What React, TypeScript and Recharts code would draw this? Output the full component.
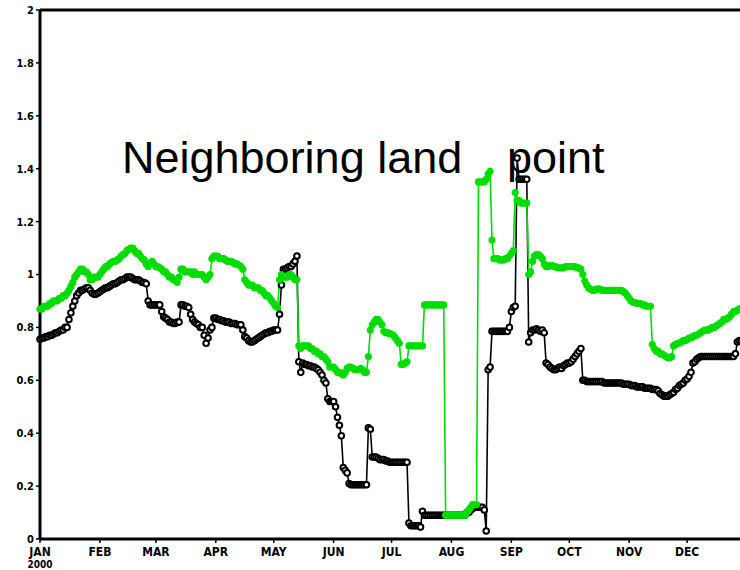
import React from "react";
import { LineChart, Line, XAxis, YAxis, ReferenceLine } from "recharts";

// day-of-year (2000, leap year) where each month starts
const monthStarts = [0, 31, 60, 91, 121, 152, 182, 213, 244, 274, 305, 335];
const monthLabels = ["JAN", "FEB", "MAR", "APR", "MAY", "JUN", "JUL", "AUG", "SEP", "OCT", "NOV", "DEC"];
const yTicks = [0, 0.2, 0.4, 0.6, 0.8, 1, 1.2, 1.4, 1.6, 1.8, 2];

// green series, one value per day
const greenValues = [
  // jan
  0.87, 0.87, 0.88, 0.88, 0.88, 0.89, 0.89, 0.9, 0.9, 0.9, 0.91, 0.91, 0.92, 0.92, 0.93, 0.94, 0.955, 0.97, 0.99, 1.0,
  1.01, 1.02, 1.02, 1.01, 1.01, 1.0, 0.98, 0.98, 0.99, 0.99, 0.99,
  // feb
  1.0, 1.01, 1.02, 1.03, 1.03, 1.04, 1.045, 1.05, 1.05, 1.055, 1.06, 1.07, 1.075, 1.08, 1.09, 1.095, 1.1, 1.1, 1.09, 1.08,
  1.08, 1.07, 1.06, 1.055, 1.04, 1.03, 1.04, 1.05, 1.04,
  // mar
  1.03, 1.03, 1.025, 1.02, 1.01, 1.01, 1.0, 0.99, 0.99, 0.98, 0.98, 0.97, 0.99, 1.02, 1.02, 1.01, 1.01, 1.01, 1.01, 1.0,
  1.01, 1.0, 1.0, 1.0, 1.0, 0.99, 0.98, 0.99, 1.0, 1.06, 1.07,
  // apr
  1.07, 1.07, 1.06, 1.06, 1.06, 1.055, 1.05, 1.05, 1.05, 1.045, 1.04, 1.04, 1.035, 1.03, 1.02, 0.98, 0.97, 0.96, 0.96, 0.96,
  0.95, 0.95, 0.95, 0.94, 0.94, 0.93, 0.92, 0.92, 0.91, 0.9,
  // may
  0.89, 0.88, 0.875, 0.98, 1.0, 0.99, 0.99, 0.99, 1.0, 1.0, 0.99, 0.98, 0.98, 0.73, 0.72, 0.73, 0.73, 0.73, 0.73, 0.72,
  0.72, 0.71, 0.71, 0.7, 0.7, 0.69, 0.69, 0.68, 0.67, 0.65, 0.65,
  // jun
  0.65, 0.64, 0.63, 0.63, 0.625, 0.62, 0.63, 0.645, 0.65, 0.65, 0.645, 0.64, 0.64, 0.64, 0.645, 0.64, 0.63, 0.63, 0.69, 0.79,
  0.81, 0.82, 0.83, 0.83, 0.82, 0.81, 0.785, 0.78, 0.78, 0.775,
  // jul
  0.775, 0.77, 0.76, 0.75, 0.74, 0.66, 0.66, 0.665, 0.67, 0.73, 0.73, 0.73, 0.73, 0.73, 0.73, 0.73, 0.73, 0.885, 0.885, 0.885,
  0.885, 0.885, 0.885, 0.885, 0.885, 0.885, 0.885, 0.885, 0.09, 0.09, 0.09,
  // aug
  0.09, 0.09, 0.09, 0.09, 0.09, 0.09, 0.09, 0.09, 0.1, 0.11, 0.12, 0.13, 0.13, 0.13, 1.35, 1.35, 1.35, 1.35, 1.36, 1.38,
  1.39, 1.13, 1.06, 1.06, 1.06, 1.055, 1.055, 1.055, 1.06, 1.06, 1.07,
  // sep
  1.08, 1.09, 1.31, 1.28, 1.28, 1.27, 1.27, 1.27, 1.27, 1.0, 1.01, 1.05, 1.07, 1.075, 1.075, 1.07, 1.06, 1.04, 1.03, 1.03,
  1.035, 1.035, 1.03, 1.03, 1.025, 1.025, 1.025, 1.025, 1.03, 1.03,
  // oct
  1.03, 1.03, 1.03, 1.03, 1.025, 1.025, 1.02, 1.0, 0.975, 0.96, 0.95, 0.945, 0.94, 0.94, 0.945, 0.945, 0.945, 0.94, 0.94, 0.94,
  0.94, 0.94, 0.94, 0.94, 0.94, 0.94, 0.94, 0.94, 0.935, 0.93, 0.92,
  // nov
  0.91, 0.9, 0.895, 0.895, 0.89, 0.89, 0.89, 0.885, 0.885, 0.88, 0.88, 0.88, 0.735, 0.72, 0.71, 0.71, 0.7, 0.7, 0.695, 0.69,
  0.685, 0.685, 0.69, 0.73, 0.735, 0.74, 0.74, 0.745, 0.75, 0.75,
  // dec
  0.755, 0.76, 0.76, 0.765, 0.77, 0.77, 0.775, 0.78, 0.785, 0.79, 0.79, 0.79, 0.795, 0.8, 0.8, 0.805, 0.81, 0.815, 0.82, 0.83,
  0.83, 0.835, 0.84, 0.85, 0.86, 0.86, 0.865, 0.87, 0.87, 0.87, 0.87,
];

// black series (open circles), one value per day
const blackValues = [
  // jan
  0.755, 0.76, 0.76, 0.765, 0.765, 0.77, 0.77, 0.775, 0.78, 0.78, 0.785, 0.79, 0.79, 0.8, 0.8, 0.83, 0.855, 0.88, 0.9, 0.92,
  0.93, 0.94, 0.94, 0.945, 0.95, 0.95, 0.94, 0.93, 0.925, 0.925, 0.93,
  // feb
  0.935, 0.94, 0.945, 0.95, 0.95, 0.955, 0.96, 0.965, 0.965, 0.97, 0.975, 0.98, 0.98, 0.985, 0.99, 0.99, 0.99, 0.985, 0.98, 0.98,
  0.98, 0.975, 0.97, 0.97, 0.965, 0.9, 0.885, 0.885, 0.885,
  // mar
  0.885, 0.885, 0.885, 0.86, 0.84, 0.835, 0.83, 0.82, 0.82, 0.815, 0.815, 0.82, 0.82, 0.885, 0.885, 0.88, 0.88, 0.875, 0.85, 0.83,
  0.82, 0.815, 0.81, 0.8, 0.8, 0.77, 0.74, 0.76, 0.79, 0.8, 0.835,
  // apr
  0.835, 0.83, 0.83, 0.825, 0.825, 0.82, 0.82, 0.82, 0.815, 0.815, 0.815, 0.81, 0.81, 0.81, 0.79, 0.765, 0.76, 0.75, 0.745, 0.745,
  0.75, 0.755, 0.76, 0.765, 0.77, 0.775, 0.78, 0.78, 0.785, 0.785,
  // may
  0.79, 0.79, 0.79, 0.85, 0.96, 1.02, 1.02, 1.025, 1.03, 1.03, 1.04, 1.05, 1.07, 0.67, 0.63, 0.665, 0.66, 0.66, 0.655, 0.655,
  0.65, 0.65, 0.645, 0.64, 0.63, 0.62, 0.6, 0.59, 0.53, 0.52, 0.52,
  // jun
  0.52, 0.5, 0.46, 0.43, 0.39, 0.27, 0.26, 0.25, 0.21, 0.205, 0.205, 0.205, 0.205, 0.205, 0.205, 0.205, 0.205, 0.205, 0.42, 0.415,
  0.31, 0.31, 0.31, 0.305, 0.3, 0.3, 0.3, 0.295, 0.295, 0.29,
  // jul
  0.29, 0.29, 0.29, 0.29, 0.29, 0.29, 0.29, 0.29, 0.29, 0.06, 0.05, 0.05, 0.05, 0.05, 0.05, 0.045, 0.105, 0.09, 0.09, 0.09,
  0.09, 0.09, 0.09, 0.09, 0.09, 0.09, 0.09, 0.09, 0.09, 0.09, 0.09,
  // aug
  0.09, 0.09, 0.09, 0.09, 0.09, 0.09, 0.09, 0.09, 0.1, 0.1, 0.11, 0.115, 0.12, 0.12, 0.12, 0.12, 0.12, 0.11, 0.03, 0.64,
  0.65, 0.785, 0.785, 0.785, 0.785, 0.785, 0.785, 0.785, 0.785, 0.785, 0.8,
  // sep
  0.86, 0.875, 0.88, 1.44, 1.36, 1.36, 1.36, 1.36, 1.36, 0.745, 0.78, 0.79, 0.79, 0.795, 0.79, 0.785, 0.79, 0.78, 0.665, 0.66,
  0.65, 0.645, 0.64, 0.64, 0.645, 0.65, 0.645, 0.655, 0.66, 0.665,
  // oct
  0.665, 0.67, 0.68, 0.69, 0.7, 0.71, 0.72, 0.6, 0.6, 0.595, 0.595, 0.595, 0.595, 0.595, 0.595, 0.595, 0.595, 0.595, 0.59, 0.59,
  0.59, 0.59, 0.59, 0.59, 0.59, 0.59, 0.59, 0.59, 0.585, 0.585, 0.585,
  // nov
  0.585, 0.58, 0.58, 0.58, 0.575, 0.575, 0.575, 0.575, 0.57, 0.57, 0.57, 0.57, 0.565, 0.565, 0.565, 0.56, 0.55, 0.545, 0.54, 0.54,
  0.54, 0.545, 0.55, 0.555, 0.565, 0.57, 0.58, 0.585, 0.59, 0.6,
  // dec
  0.605, 0.615, 0.63, 0.665, 0.67, 0.68, 0.685, 0.69, 0.69, 0.69, 0.69, 0.69, 0.69, 0.69, 0.69, 0.69, 0.69, 0.69, 0.69, 0.69,
  0.69, 0.69, 0.69, 0.69, 0.69, 0.7, 0.745, 0.75, 0.75, 0.75, 0.75,
];

const data = greenValues.map((g, i) => ({ day: i, green: g, black: blackValues[i] }));

const GREEN = "rgb(0,220,0)";
const tickFont = "'DejaVu Sans Condensed', 'DejaVu Sans', sans-serif";

function MonthTick(props: any) {
  const { x, y, payload } = props;
  const idx = monthStarts.indexOf(payload.value);
  return (
    <g>
      <text x={x} y={y + 11} textAnchor="middle" fontSize={12} fontWeight="bold" fontFamily={tickFont} fill="#000">
        {monthLabels[idx]}
      </text>
      {idx === 0 && (
        <text x={x} y={y + 23} textAnchor="middle" fontSize={10} fontWeight="bold" fontFamily={tickFont} fill="#000">
          2000
        </text>
      )}
    </g>
  );
}

export default function App() {
  return (
    <div style={{ position: "absolute", left: 0, top: 0, width: 740, height: 570, overflow: "hidden", background: "#fff" }}>
      <LineChart width={760} height={570} data={data} margin={{ top: 10, right: 13, bottom: 0, left: 0 }}>
        <XAxis
          dataKey="day"
          type="number"
          domain={[0, 366]}
          ticks={monthStarts}
          tick={<MonthTick />}
          tickSize={4}
          height={31}
          axisLine={{ stroke: "#000", strokeWidth: 3 }}
          tickLine={{ stroke: "#000", strokeWidth: 1.5 }}
          interval={0}
        />
        <YAxis
          type="number"
          domain={[0, 2]}
          ticks={yTicks}
          width={40}
          tickSize={4}
          interval={0}
          tickFormatter={(v: number) => (Number.isInteger(v) ? String(v) : v.toFixed(1))}
          tick={{ fill: "#000", fontSize: 11, fontWeight: "bold", fontFamily: tickFont }}
          axisLine={{ stroke: "#000", strokeWidth: 3 }}
          tickLine={{ stroke: "#000", strokeWidth: 1.5 }}
        />
        <ReferenceLine y={2} stroke="#000" strokeWidth={3} ifOverflow="visible" />
        <ReferenceLine x={366} stroke="#000" strokeWidth={3} ifOverflow="visible" />
        <Line
          type="linear"
          dataKey="black"
          stroke="#000"
          strokeWidth={1.6}
          dot={{ r: 2.8, fill: "#fff", stroke: "#000", strokeWidth: 2 }}
          isAnimationActive={false}
        />
        <Line
          type="linear"
          dataKey="green"
          stroke={GREEN}
          strokeWidth={1.6}
          dot={{ r: 3.6, fill: GREEN, stroke: "none" }}
          isAnimationActive={false}
        />
      </LineChart>
      <svg width={740} height={570} style={{ position: "absolute", left: 0, top: 0, pointerEvents: "none" }}>
        <text x={122} y={173} fontSize={45} fontFamily="'Liberation Sans', Arial, sans-serif" fill="#000">
          Neighboring land
        </text>
        <text x={507} y={173} fontSize={45} fontFamily="'Liberation Sans', Arial, sans-serif" fill="#000">
          point
        </text>
      </svg>
    </div>
  );
}
